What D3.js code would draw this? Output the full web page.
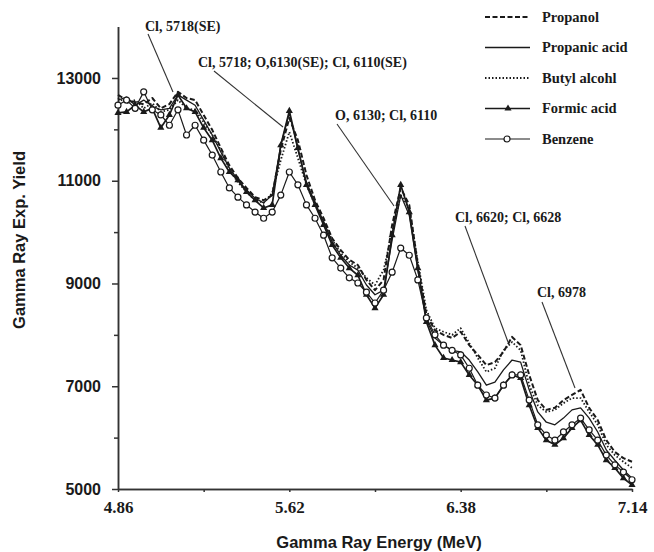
<!DOCTYPE html>
<html>
<head>
<meta charset="utf-8">
<script src="https://cdnjs.cloudflare.com/ajax/libs/d3/7.8.5/d3.min.js"></script>
<style>
    body { margin: 0; background: #fff; }
    .axis path, .axis line { stroke: #333; stroke-width: 1.5; }
</style>
</head>
<body>
<script>
// gamma ray energy (MeV) of each channel
var energy = [4.860, 4.898, 4.936, 4.974, 5.012, 5.050, 5.088, 5.126, 5.164, 5.202,
    5.240, 5.278, 5.316, 5.354, 5.392, 5.430, 5.468, 5.506, 5.544, 5.582,
    5.620, 5.658, 5.696, 5.734, 5.772, 5.810, 5.848, 5.886, 5.924, 5.962,
    6.000, 6.038, 6.076, 6.114, 6.152, 6.190, 6.228, 6.266, 6.304, 6.342,
    6.380, 6.418, 6.456, 6.494, 6.532, 6.570, 6.608, 6.646, 6.684, 6.722,
    6.760, 6.798, 6.836, 6.874, 6.912, 6.950, 6.988, 7.026, 7.064, 7.102, 7.140]

// yields per sample
var propanol = [12670, 12570, 12530, 12490, 12610, 12410, 12490, 12730, 12610, 12570,
    12280, 11990, 11640, 11300, 11050, 10860, 10680, 10620, 10720, 11600,
    12220, 11790, 11110, 10620, 10270, 9880, 9650, 9460, 9360, 9070,
    8870, 9070, 10140, 10860, 10530, 9360, 8390, 8090, 8000, 7940,
    8060, 7800, 7610, 7410, 7470, 7670, 7960, 7800, 7220, 6730,
    6540, 6580, 6730, 6830, 6930, 6580, 6340, 5950, 5720, 5600, 5530]
var propanicAcid = [12570, 12630, 12470, 12570, 12450, 12380, 12410, 12670, 12570, 12470,
    12180, 11890, 11560, 11250, 11010, 10820, 10660, 10570, 10720, 11690,
    12320, 11600, 10970, 10570, 10200, 9810, 9550, 9360, 9260, 8970,
    8780, 8870, 9850, 10720, 10330, 9260, 8290, 7940, 7800, 7700,
    7670, 7510, 7280, 7020, 7080, 7320, 7510, 7470, 6930, 6500,
    6300, 6250, 6380, 6540, 6580, 6380, 6110, 5760, 5560, 5370, 5210]
var butylAlcohol = [12610, 12510, 12570, 12410, 12510, 12340, 12380, 12570, 12410, 12380,
    12140, 11890, 11600, 11210, 10970, 10780, 10620, 10570, 10760, 11400,
    11950, 11440, 10920, 10530, 10200, 9850, 9590, 9420, 9300, 9110,
    8970, 9260, 10000, 10720, 10470, 9420, 8480, 8130, 8060, 8000,
    8130, 7840, 7550, 7280, 7350, 7700, 7860, 7700, 7020, 6630,
    6500, 6540, 6670, 6770, 6770, 6500, 6250, 5860, 5660, 5530, 5410]
var formicAcid = [12320, 12340, 12470, 12340, 12410, 12030, 12280, 12670, 12410, 12340,
    12030, 11790, 11440, 11170, 11010, 10780, 10620, 10470, 10530, 11690,
    12360, 11640, 10920, 10530, 10140, 9750, 9500, 9300, 9160, 8780,
    8520, 8780, 9940, 10920, 10390, 9300, 8250, 7800, 7550, 7510,
    7470, 7220, 7020, 6730, 6770, 7020, 7220, 7160, 6630, 6190,
    5950, 5860, 5990, 6190, 6340, 6050, 5860, 5560, 5410, 5210, 5080]
var benzene = [12470, 12570, 12410, 12730, 12380, 12280, 12080, 12380, 11890, 12080,
    11790, 11500, 11170, 10860, 10680, 10530, 10390, 10270, 10390, 10720,
    11170, 10920, 10530, 10270, 9940, 9500, 9300, 9110, 9010, 8830,
    8620, 8870, 9220, 9690, 9550, 9070, 8330, 8000, 7800, 7700,
    7610, 7350, 7020, 6830, 6770, 7020, 7220, 7220, 6730, 6250,
    6050, 5950, 6110, 6250, 6380, 6150, 5950, 5660, 5470, 5330, 5180]

// axis ticks
var xMajor = [4.86, 5.62, 6.38, 7.14]
var xMinor = [5.24, 6.00, 6.76]
var yMajor = [5000, 7000, 9000, 11000, 13000]
var yMinor = [6000, 8000, 10000, 12000]

// peak annotations
var notes = ["Cl, 5718(SE)", "Cl, 5718; O,6130(SE); Cl, 6110(SE)", "O, 6130; Cl, 6110",
    "Cl, 6620; Cl, 6628", "Cl, 6978"]

var series = [
    { name: "Propanol", values: propanol, dash: "5,2.5", width: 2, marker: null },
    { name: "Propanic acid", values: propanicAcid, dash: null, width: 1.3, marker: null },
    { name: "Butyl alcohl", values: butylAlcohol, dash: "1.5,2", width: 1.8, marker: null },
    { name: "Formic acid", values: formicAcid, dash: null, width: 1.7, marker: "tri" },
    { name: "Benzene", values: benzene, dash: null, width: 1.2, marker: "circle" }
]

var w = 654
var h = 552
var ink = "#1a1a1a"
var serif = "'Liberation Serif', 'Times New Roman', serif"
var sans = "'Liberation Sans', Arial, sans-serif"

var svg = d3.select("body")
    .append("svg")
    .attr("width", w)
    .attr("height", h)

var xScale = d3.scaleLinear()
    .domain([4.86, 7.14])
    .range([118, 632])

var yScale = d3.scaleLinear()
    .domain([5000, 14000])
    .range([489, 26.6])

// minor ticks first, then major with labels
svg.append("g")
    .attr("class", "axis")
    .attr("transform", "translate(118,0)")
    .call(d3.axisLeft(yScale).tickValues(yMinor).tickSize(4).tickSizeOuter(0).tickFormat(""))

svg.append("g")
    .attr("class", "axis")
    .attr("transform", "translate(118,0)")
    .call(d3.axisLeft(yScale).tickValues(yMajor).tickSize(6).tickSizeOuter(0).tickPadding(11)
        .tickFormat(d3.format("d")))
    .selectAll("text")
    .attr("font-size", "16")
    .attr("font-weight", "bold")
    .attr("font-family", sans)
    .attr("fill", ink)

svg.append("g")
    .attr("class", "axis")
    .attr("transform", "translate(0,489)")
    .call(d3.axisBottom(xScale).tickValues(xMinor).tickSize(3).tickSizeOuter(0).tickFormat(""))

svg.append("g")
    .attr("class", "axis")
    .attr("transform", "translate(0,489)")
    .call(d3.axisBottom(xScale).tickValues(xMajor).tickSize(3).tickSizeOuter(0).tickPadding(9)
        .tickFormat(d3.format(".2f")))
    .selectAll("text")
    .attr("font-size", "17")
    .attr("font-weight", "bold")
    .attr("font-family", serif)
    .attr("fill", ink)

// axis titles
svg.append("text")
    .attr("text-anchor", "middle")
    .attr("transform", "translate(379,548)")
    .attr("font-size", "16.5")
    .attr("font-weight", "bold")
    .attr("font-family", sans)
    .attr("fill", ink)
    .text("Gamma Ray Energy (MeV)")

svg.append("text")
    .attr("text-anchor", "middle")
    .attr("transform", "translate(25,240) rotate(-90)")
    .attr("font-size", "16.5")
    .attr("font-weight", "bold")
    .attr("font-family", sans)
    .attr("fill", ink)
    .text("Gamma Ray Exp. Yield")

// curves
var line = d3.line()
    .x(function(d, i) { return xScale(energy[i]) })
    .y(function(d) { return yScale(d) })

series.forEach(function(s) {
    svg.append("path")
        .datum(s.values)
        .attr("d", line)
        .attr("fill", "none")
        .attr("stroke", ink)
        .attr("stroke-width", s.width)
        .attr("stroke-dasharray", s.dash)
        .attr("stroke-linejoin", "round")
})

var tri = d3.symbol().type(d3.symbolTriangle).size(22)

svg.selectAll(".tri")
    .data(formicAcid)
    .enter()
    .append("path")
    .attr("class", "tri")
    .attr("d", tri)
    .attr("transform", function(d, i) { return "translate(" + xScale(energy[i]) + "," + yScale(d) + ")" })
    .attr("fill", ink)

svg.selectAll(".ring")
    .data(benzene)
    .enter()
    .append("circle")
    .attr("class", "ring")
    .attr("cx", function(d, i) { return xScale(energy[i]) })
    .attr("cy", function(d) { return yScale(d) })
    .attr("r", 3)
    .attr("fill", "#fff")
    .attr("stroke", ink)
    .attr("stroke-width", 1.2)

// annotation labels with leader lines
var notePos = [
    { x: 145, y: 31, from: [148, 34], to: [173, 92] },
    { x: 198, y: 67, from: [214, 71], to: [283, 127] },
    { x: 335, y: 120, from: [337, 124], to: [394, 206] },
    { x: 455, y: 222, from: [465, 226], to: [508, 342] },
    { x: 537, y: 297, from: [542, 302], to: [575, 388] }
]

notes.forEach(function(t, i) {
    var p = notePos[i]
    svg.append("line")
        .attr("x1", p.from[0]).attr("y1", p.from[1])
        .attr("x2", p.to[0]).attr("y2", p.to[1])
        .attr("stroke", "#333")
        .attr("stroke-width", 1.1)
    svg.append("text")
        .attr("x", p.x)
        .attr("y", p.y)
        .attr("font-size", "14")
        .attr("font-weight", "bold")
        .attr("font-family", serif)
        .attr("fill", ink)
        .text(t)
})

// legend
var legend = svg.append("g")
    .attr("transform", "translate(485,17)")

series.forEach(function(s, i) {
    var row = legend.append("g")
        .attr("transform", "translate(0," + (i * 30.5) + ")")
    row.append("line")
        .attr("x1", 0).attr("x2", 45)
        .attr("stroke", ink)
        .attr("stroke-width", s.width)
        .attr("stroke-dasharray", s.dash)
    if (s.marker == "tri") {
        row.append("path").attr("d", tri).attr("transform", "translate(23,0)").attr("fill", ink)
    }
    if (s.marker == "circle") {
        row.append("circle").attr("cx", 22).attr("r", 3)
            .attr("fill", "#fff").attr("stroke", ink).attr("stroke-width", 1.2)
    }
    row.append("text")
        .attr("x", 57)
        .attr("dy", "0.32em")
        .attr("font-size", "14.5")
        .attr("font-weight", "bold")
        .attr("font-family", serif)
        .attr("fill", ink)
        .text(s.name)
})
</script>
</body>
</html>
